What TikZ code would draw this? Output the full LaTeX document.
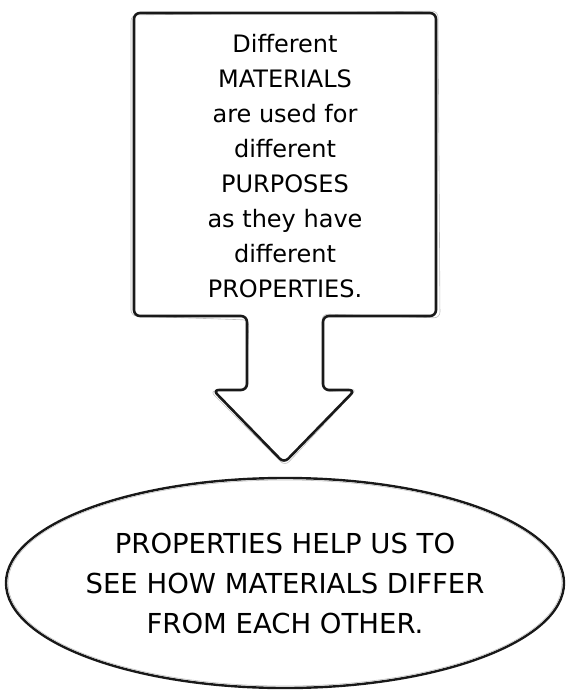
\documentclass[tikz,border=0pt]{standalone}
\usepackage{fontspec}
\setmainfont{DejaVu Sans}
\usetikzlibrary{shapes.geometric, positioning}

\begin{document}
\begin{tikzpicture}[
    x=1pt, y=-1pt,
    outline/.style={draw=black!90, line width=2.6pt, rounded corners=6pt, line join=round},
    sketch/.style={draw=black!25, line width=0.6pt, rounded corners=6pt},
    msgtext/.style={align=center, font=\fontsize{24}{35}\selectfont},
    bubbletext/.style={align=center, font=\fontsize{27.5}{40}\selectfont},
    bubbleline/.style={draw=black!90, line width=2.4pt}
]
    \useasboundingbox (0,0) rectangle (573,698);

    % callout box with the down arrow
    \node[msgtext] (msg) at (285,166) {Different\\MATERIALS\\are used for\\different\\PURPOSES\\as they have\\different\\PROPERTIES.};
    \coordinate (boxnw) at (134,13);
    \coordinate (boxse) at (436,316);
    \coordinate (tip) at (284,463);

    \draw[sketch] (131,15) -- (438,11) -- (440,318) -- (322,314) -- (324,392) -- (357,389)
        -- (285,466) -- (210,391) -- (246,389) -- (249,320) -- (131,316) -- cycle;
    \draw[outline] (boxnw) -- (boxnw -| boxse) -- (boxse) -- (323,316) -- (323,390) -- (355,390)
        -- (tip) -- (213,390) -- (247,390) -- (247,316) -- (boxnw |- boxse) -- cycle;

    % ellipse with the conclusion
    \node[bubbletext] (facts) at (285,583) {PROPERTIES HELP US TO\\SEE HOW MATERIALS DIFFER\\FROM EACH OTHER.};
    \draw[bubbleline] (facts.center) ellipse (279pt and 105pt);
    \draw[sketch] (facts.center) ellipse (277pt and 103pt);
\end{tikzpicture}
\end{document}
